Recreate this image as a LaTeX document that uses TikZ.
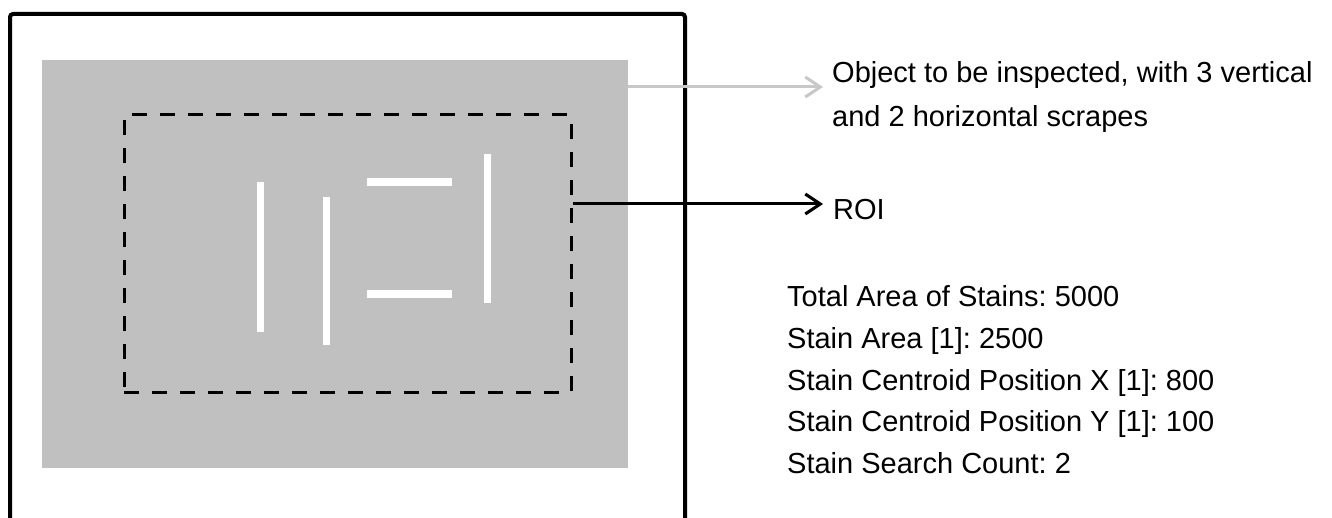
\documentclass[tikz,border=0pt]{standalone}
\usepackage{fontspec}
\setmainfont{Liberation Sans}
\usetikzlibrary{arrows.meta}
\definecolor{objgray}{RGB}{192,192,192}
\definecolor{arrgray}{RGB}{200,200,200}
\frenchspacing
\tikzset{
  frameline/.style={line width=4pt, black, rounded corners=3pt},
  objbox/.style={fill=objgray, draw=none, minimum width=586pt, minimum height=408pt, inner sep=0pt},
  roibox/.style={draw=black, line width=3pt, dash pattern=on 15pt off 13pt, minimum width=447pt, minimum height=277pt, inner sep=0pt},
  scrape/.style={white, line width=7pt},
  hscrape/.style={white, line width=8pt},
  grayarr/.style={draw=arrgray, line width=3pt, -{Straight Barb[length=15pt, width=20pt, line width=3pt]}},
  blackarr/.style={draw=black, line width=3pt, -{Straight Barb[length=15pt, width=20pt, line width=3pt]}},
  lbl/.style={anchor=base west, inner sep=0pt, font=\fontsize{29}{41.5}\selectfont}
}
\begin{document}
\begin{tikzpicture}[x=1pt,y=-1pt]
\useasboundingbox (0,0) rectangle (1332,518);
\fill[white] (0,0) rectangle (1332,518);
\clip (0,0) rectangle (1332,518);
% outer frame
\draw[frameline] (10,540) -- (10,14) -- (685,14) -- (685,540);
% inspected object and ROI
\node[objbox] (obj) at (335,264) {};
\node[roibox] (roi) at (347.5,253.5) {};
% scrapes
\draw[scrape] (260,182) -- (260,332);
\draw[scrape] (326,197) -- (326,345);
\draw[scrape] (487,154) -- (487,303);
\draw[hscrape] (367,182) -- (452,182);
\draw[hscrape] (367,294) -- (452,294);
% labels
\node[lbl] (objlbl1) at (832,83) {Object to be inspected, with 3 vertical};
\node[lbl] (objlbl2) at (832,127) {and 2 horizontal scrapes};
\node[lbl] (roilbl) at (833,220) {ROI};
\node[lbl] (d1) at (787,307) {Total Area of Stains: 5000};
\node[lbl] (d2) at (787,348.5) {Stain Area [1]: 2500};
\node[lbl] (d3) at (787,390) {Stain Centroid Position X [1]: 800};
\node[lbl] (d4) at (787,431.5) {Stain Centroid Position Y [1]: 100};
\node[lbl] (d5) at (787,473) {Stain Search Count: 2};
% arrows
\coordinate (objtip) at (823,87);
\coordinate (roitip) at (823,204);
\draw[grayarr] (obj.east |- objtip) -- (objtip);
\draw[blackarr] (roi.east |- roitip) -- (roitip);
\end{tikzpicture}
\end{document}
